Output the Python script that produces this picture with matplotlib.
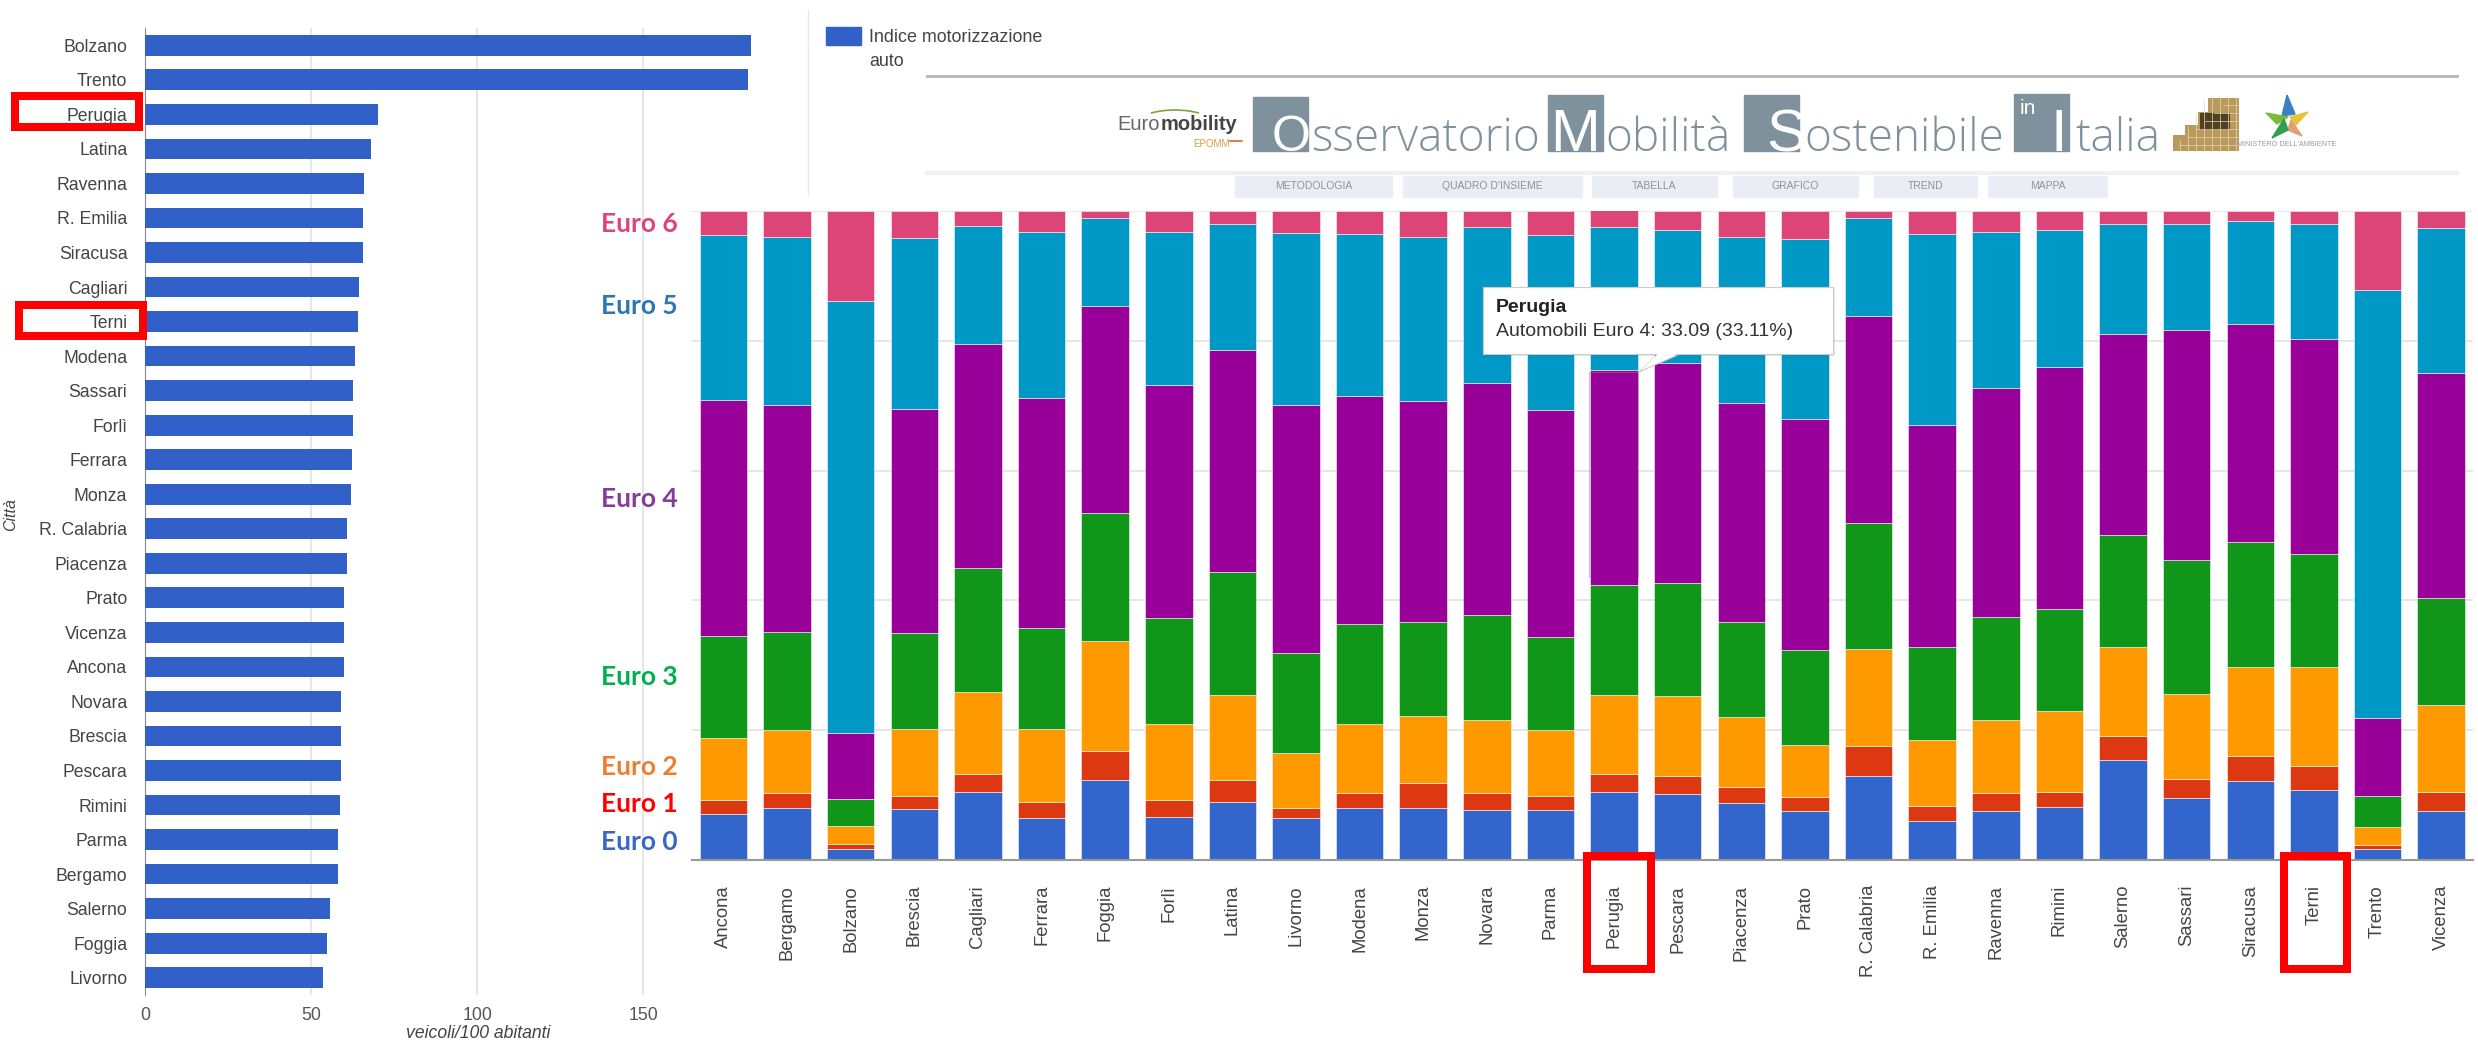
import numpy as np
import matplotlib
matplotlib.use('Agg')
import matplotlib.pyplot as plt
from matplotlib.patches import Rectangle, Polygon, Arc

W, H = 2478, 1045

# indice di motorizzazione (grafico a sinistra)
mot_cities = ['Bolzano', 'Trento', 'Perugia', 'Latina', 'Ravenna', 'R. Emilia', 'Siracusa',
              'Cagliari', 'Terni', 'Modena', 'Sassari', 'Forlì', 'Ferrara', 'Monza',
              'R. Calabria', 'Piacenza', 'Prato', 'Vicenza', 'Ancona', 'Novara', 'Brescia',
              'Pescara', 'Rimini', 'Parma', 'Bergamo', 'Salerno', 'Foggia', 'Livorno']
mot_values = [182.4, 181.5, 70.2, 67.9, 65.7, 65.5, 65.4, 64.3, 64.0, 63.1, 62.6, 62.6, 62.3, 62.0,
              60.6, 60.6, 59.7, 59.7, 59.7, 58.8, 58.8, 58.8, 58.5, 58.0, 58.0, 55.6, 54.6, 53.4]
mot_ticks = [0, 50, 100, 150]

# classi euro (grafico a destra), valori in %
euro_cities = ['Ancona', 'Bergamo', 'Bolzano', 'Brescia', 'Cagliari', 'Ferrara', 'Foggia', 'Forlì',
               'Latina', 'Livorno', 'Modena', 'Monza', 'Novara', 'Parma', 'Perugia', 'Pescara',
               'Piacenza', 'Prato', 'R. Calabria', 'R. Emilia', 'Ravenna', 'Rimini', 'Salerno',
               'Sassari', 'Siracusa', 'Terni', 'Trento', 'Vicenza']
euro0 = [7.07, 7.94, 1.73, 7.81, 10.47, 6.47, 12.34, 6.67, 9.01, 6.40, 8.07, 8.07, 7.74, 7.74,
         10.41, 10.14, 8.81, 7.54, 13.01, 6.07, 7.54, 8.14, 15.41, 9.61, 12.21, 10.81, 1.73, 7.54]
euro1 = [2.13, 2.40, 0.80, 2.07, 2.80, 2.40, 4.47, 2.54, 3.27, 1.67, 2.33, 3.74, 2.60, 2.13,
         2.87, 2.87, 2.47, 2.20, 4.60, 2.27, 2.80, 2.27, 3.74, 2.87, 3.74, 3.74, 0.53, 2.87]
euro2 = [9.67, 9.67, 2.74, 10.34, 12.67, 11.34, 16.94, 11.67, 13.08, 8.47, 10.61, 10.34, 11.21, 10.14,
         12.14, 12.27, 10.74, 8.01, 14.94, 10.21, 11.27, 12.54, 13.74, 13.14, 13.74, 15.14, 2.80, 13.41]
euro3 = [15.68, 15.14, 4.14, 14.68, 19.01, 15.54, 19.75, 16.34, 18.95, 15.34, 15.28, 14.48, 16.21, 14.28,
         16.94, 17.41, 14.61, 14.54, 19.41, 14.28, 15.88, 15.74, 17.21, 20.68, 19.35, 17.48, 4.74, 16.61]
euro4 = [36.36, 34.96, 10.21, 34.62, 34.62, 35.42, 31.89, 35.96, 34.29, 38.16, 35.16, 34.16, 35.76, 35.09,
         33.09, 33.96, 33.82, 35.69, 31.89, 34.16, 35.29, 37.22, 31.02, 35.42, 33.49, 33.09, 12.01, 34.56]
euro5 = [25.35, 25.88, 66.44, 26.35, 18.08, 25.62, 13.48, 23.62, 19.35, 26.55, 25.02, 25.22, 23.95, 26.88,
         22.15, 20.48, 25.48, 27.68, 15.01, 29.49, 24.02, 21.21, 16.88, 16.28, 15.94, 17.68, 66.04, 22.35]
euro6 = [3.74, 4.00, 13.94, 4.14, 2.33, 3.20, 1.13, 3.20, 2.07, 3.40, 3.54, 4.00, 2.54, 3.74,
         2.67, 2.87, 4.07, 4.34, 1.13, 3.54, 3.20, 2.87, 2.00, 2.00, 1.53, 2.07, 12.14, 2.67]
euro_series = [euro0, euro1, euro2, euro3, euro4, euro5, euro6]
euro_colors = ['#3366cc', '#dc3912', '#ff9900', '#109618', '#990099', '#0099c6', '#dd4477']

euro_names = ['Euro 0', 'Euro 1', 'Euro 2', 'Euro 3', 'Euro 4', 'Euro 5', 'Euro 6']
name_colors = ['#3a66c6', '#ff0000', '#ed7d31', '#00b050', '#833c9c', '#2e75b6', '#dd4477']
name_y = [842, 804, 767, 677, 499, 306, 224]

plt.rcParams['font.family'] = ['Liberation Sans', 'DejaVu Sans']
fig = plt.figure(figsize=(W / 100, H / 100), dpi=100)


def axes_px(x0, y0, x1, y1):
    # rettangolo in pixel (origine in alto a sinistra)
    return fig.add_axes([x0 / W, 1 - y1 / H, (x1 - x0) / W, (y1 - y0) / H])


# grafico a sinistra
ax1 = axes_px(145.4, 28, 145.4 + 3.32 * 190, 995)
ax1.patch.set_alpha(0)
pos = np.arange(len(mot_cities))
ax1.barh(pos, mot_values, height=0.6, color='#3060c8', zorder=3)
ax1.set_ylim(len(mot_cities) - 0.5, -0.5)
ax1.set_xlim(0, 190)
ax1.set_yticks(pos)
ax1.set_yticklabels(mot_cities, fontsize=12.7, color='#444444')
ax1.set_xticks(mot_ticks)
ax1.set_xticklabels(mot_ticks, fontsize=12.7, color='#555555')
ax1.tick_params(length=0)
ax1.tick_params(axis='y', pad=13)
ax1.tick_params(axis='x', pad=9)
ax1.grid(axis='x', color='#e2e2e2', lw=1.2, zorder=0)
for s in ['top', 'right', 'bottom']:
    ax1.spines[s].set_visible(False)
ax1.spines['left'].set_color('#888888')

# grafico a destra
ax2 = axes_px(691.6, 211, 2473, 860)
ax2.patch.set_alpha(0)
x = np.arange(len(euro_cities))
bottom = np.zeros(len(euro_cities))
for vals, col in zip(euro_series, euro_colors):
    ax2.bar(x, vals, width=0.747, bottom=bottom, color=col, edgecolor='#ffffff88', lw=0.7, zorder=3)
    bottom = bottom + np.array(vals)
ax2.set_xlim(-0.5, len(euro_cities) - 0.5)
ax2.set_ylim(0, 100)
ax2.set_yticks([0, 20, 40, 60, 80, 100])
ax2.set_yticklabels([])
ax2.set_xticks(x)
ax2.set_xticklabels(euro_cities, rotation=90, fontsize=13.3, color='#444444', va='top')
ax2.tick_params(length=0)
ax2.tick_params(axis='x', pad=18)
ax2.grid(axis='y', color='#e6e6e6', lw=1.4, zorder=0)
for s in ['top', 'right', 'left']:
    ax2.spines[s].set_visible(False)
ax2.spines['bottom'].set_color('#999999')
ax2.spines['bottom'].set_linewidth(1.5)
ax2.spines['bottom'].set_zorder(4)

# livello in pixel per tutto il resto
ov = fig.add_axes([0, 0, 1, 1], zorder=10)
ov.set_xlim(0, W)
ov.set_ylim(H, 0)
ov.axis('off')

ov.text(11, 515, 'Città', rotation=90, style='italic', fontsize=11.5, color='#444444', ha='center', va='center')
ov.text(478, 1033, 'veicoli/100 abitanti', style='italic', fontsize=12.7, color='#444444', ha='center', va='center')

# legenda
ov.plot([808, 808], [10, 195], color='#e8e8e8', lw=1)
ov.add_patch(Rectangle((826, 27), 35, 18, color='#3060c8'))
ov.text(869, 38, 'Indice motorizzazione', fontsize=12.9, color='#444444', va='center')
ov.text(869, 61, 'auto', fontsize=12.9, color='#444444', va='center')

# etichette euro
for name, col, yy in zip(euro_names, name_colors, name_y):
    ov.text(678, yy, name, family='Lato', weight='bold', fontsize=19, color=col, ha='right', va='center')

# testata
ov.plot([927, 2457], [76, 76], color='#b5b5b5', lw=2)
ov.plot([927, 2457], [173, 173], color='#eef0f2', lw=3)
logo_gray = '#7e919c'
for bx, top in [(1253, 97), (1548, 95), (1744, 95), (2014, 94)]:
    ov.add_patch(Rectangle((bx, top), 55, 151 - top, color=logo_gray))
# lettere bianche dentro i riquadri
for lx, letter, size in [(1291, 'O', 36), (1575, 'M', 43), (1786, 'S', 43), (2059, 'I', 43)]:
    ov.text(lx, 151, letter, fontsize=size, color='white', ha='center', va='baseline')
ov.text(2028, 109, 'in', fontsize=15, color='white', ha='center', va='center')
for tx, word in [(1311, 'sservatorio'), (1605, 'obilità'), (1804, 'ostenibile'), (2075, 'talia')]:
    ov.text(tx, 151, word, family='Open Sans', weight='light', fontsize=33, color=logo_gray, va='baseline')

ov.text(1117, 125, 'Euro', fontsize=14.5, color='#666666', va='center')
ov.text(1161, 125, 'mobility', fontsize=14.5, weight='bold', color='#444444', va='center')
ov.add_patch(Arc((1175, 130), 90, 40, theta1=215, theta2=325, color='#7aa83c', lw=1.2))
ov.text(1230, 144, 'EPOMM', fontsize=7, color='#d99a4a', ha='right', va='center')
ov.plot([1230, 1242], [141, 141], color='#e0603a', lw=1.2)

# mattoni e stella
bricks = [[2173, 151], [2173, 135], [2185, 135], [2185, 125], [2198, 125], [2198, 112],
          [2208, 112], [2208, 98], [2239, 98], [2239, 151]]
ov.add_patch(Polygon(bricks, fc='#b99a5c', ec='none'))
ov.add_patch(Rectangle((2200, 113), 30, 17, fc='#4f4023', ec='none'))
for gx in range(2180, 2239, 8):
    ov.plot([gx, gx], [max(98, 151 - (gx - 2173) * 1.6), 151], color='#e6d7b0', lw=0.5)
for gy in range(105, 151, 8):
    ov.plot([2239 - (gy - 90) * 1.1, 2239], [gy, gy], color='#e6d7b0', lw=0.5)
ov.add_patch(Polygon([[2287, 95], [2295, 114], [2282, 116]], color='#3b7fc4'))
ov.add_patch(Polygon([[2266, 113], [2288, 117], [2277, 124]], color='#7dba3c'))
ov.add_patch(Polygon([[2308, 112], [2290, 117], [2296, 125]], color='#e3c53c'))
ov.add_patch(Polygon([[2291, 120], [2302, 136], [2288, 130]], color='#e0a078'))
ov.add_patch(Polygon([[2284, 119], [2288, 130], [2272, 138]], color='#2e9e50'))
ov.text(2287, 145, 'MINISTERO DELL\'AMBIENTE', fontsize=5.2, color='#999999', ha='center', va='center')

# bottoni
nav = [('METODOLOGIA', 1235, 1392), ('QUADRO D\'INSIEME', 1403, 1582), ('TABELLA', 1592, 1717),
       ('GRAFICO', 1733, 1858), ('TREND', 1874, 1977), ('MAPPA', 1988, 2107)]
for label, a, b in nav:
    ov.add_patch(Rectangle((a, 176), b - a, 21, color='#e9eef6'))
    ov.text((a + b) / 2, 186, label, fontsize=7.5, color='#8a93a0', ha='center', va='center')

# tooltip
ov.plot([1589, 1589, 1638, 1638], [577, 372, 372, 577], color='#888888', lw=0.8, alpha=0.5)
ov.add_patch(Polygon([[1639, 372], [1658, 354], [1680, 354]], fc='white', ec='#cccccc', lw=0.8))
ov.add_patch(Rectangle((1485, 289), 350, 67, fc='#00000018', ec='none'))
ov.add_patch(Rectangle((1483, 287), 350, 67, fc='white', ec='#cccccc', lw=0.8))
ov.add_patch(Polygon([[1641, 370], [1659, 353], [1679, 353]], fc='white', ec='none'))
ov.text(1496, 307, 'Perugia', weight='bold', fontsize=14, color='#222222', va='center')
ov.text(1496, 332, 'Automobili Euro 4: 33.09 (33.11%)', fontsize=14, color='#333333', va='center')


def red_box(x0, y0, x1, y1, t=8):
    # cornici rosse aggiunte a mano sopra il grafico
    ov.add_patch(Rectangle((x0 + t / 2, y0 + t / 2), x1 - x0 - t, y1 - y0 - t,
                           fill=False, ec='#ff0000', lw=t * 0.72))


red_box(11, 92, 143, 131)
red_box(15, 301, 147, 340)
red_box(1583, 852, 1655, 973)
red_box(2280, 852, 2351, 973)

plt.savefig('out.png', dpi=100)
